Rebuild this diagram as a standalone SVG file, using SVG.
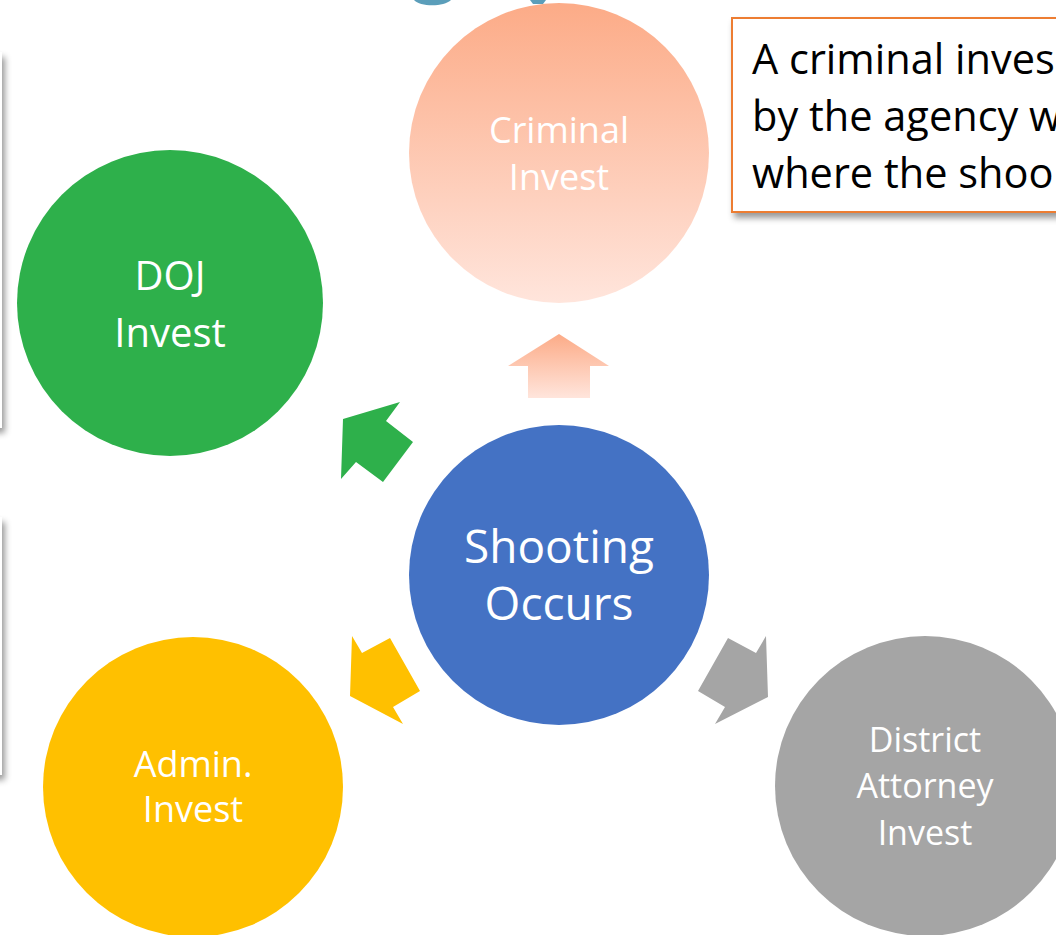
<svg xmlns="http://www.w3.org/2000/svg" width="1056" height="935" viewBox="0 0 1056 935">
<style>
.lbl{font-family:"Open Sans","Noto Sans","Liberation Sans",sans-serif;fill:#ffffff;text-anchor:middle}
.note{font-family:"Open Sans","Noto Sans","Liberation Sans",sans-serif;fill:#000000;font-size:41.5px}
</style>
<defs>
<linearGradient id="salmon" x1="0" y1="0" x2="0" y2="1">
<stop offset="0" stop-color="#FCAB87"/>
<stop offset="1" stop-color="#FFE5DC"/>
</linearGradient>
<filter id="sh" x="-20%" y="-20%" width="140%" height="150%">
<feDropShadow dx="3" dy="5" stdDeviation="3" flood-color="#000" flood-opacity="0.4"/>
</filter>
</defs>
<rect width="1056" height="935" fill="#ffffff"/>
<g id="title-fragment" fill="#5B9EBA">
<path d="M414,0 C420,7 444,7 451,0 Z"/>
<path d="M530,0 L546,0 L543,4 L533,4 Z"/>
</g>
<g id="left-boxes">
<rect x="-300" y="52" width="302" height="376" fill="#ffffff" filter="url(#sh)"/>
<rect x="-300" y="517" width="302" height="258" fill="#ffffff" filter="url(#sh)"/>
</g>
<g id="note">
<rect x="732" y="18" width="340" height="194" fill="#ffffff" stroke="#ED7D31" stroke-width="2" filter="url(#sh)"/>
<text class="note" x="752" y="74">A criminal inves</text>
<text class="note" x="752" y="131">by the agency w</text>
<text class="note" x="752" y="188">where the shoo</text>
</g>
<g id="connectors">
<polygon points="559,334 609,366 590,366 590,398 528,398 528,366 508,366" fill="url(#salmon)"/>
<polygon points="343,419 400,402 386,421 413,442 383,482 356,462 341,479" fill="#2EB04B"/>
<polygon points="352,636 362,653 390,638 420,691 393,707 403,724 350,696" fill="#FFC000"/>
<polygon points="768,697 715,724 725,707 698,691 728,638 756,653 766,636" fill="#A5A5A5"/>
</g>
<g id="criminal">
<circle cx="559" cy="153" r="150" fill="url(#salmon)"/>
<text class="lbl" x="559" y="143" font-size="36">Criminal</text>
<text class="lbl" x="559" y="190" font-size="36">Invest</text>
</g>
<g id="doj">
<circle cx="170" cy="303" r="153" fill="#2EB04B"/>
<text class="lbl" x="170" y="290" font-size="40">DOJ</text>
<text class="lbl" x="170" y="347" font-size="40">Invest</text>
</g>
<g id="shooting">
<circle cx="559" cy="575" r="150" fill="#4472C4"/>
<text class="lbl" x="559" y="563" font-size="46">Shooting</text>
<text class="lbl" x="559" y="620" font-size="46">Occurs</text>
</g>
<g id="admin">
<circle cx="193" cy="787" r="150" fill="#FFC000"/>
<text class="lbl" x="193" y="777" font-size="36">Admin.</text>
<text class="lbl" x="193" y="822" font-size="36">Invest</text>
</g>
<g id="district">
<circle cx="925" cy="786" r="150" fill="#A5A5A5"/>
<text class="lbl" x="925" y="752" font-size="34">District</text>
<text class="lbl" x="925" y="798" font-size="34">Attorney</text>
<text class="lbl" x="925" y="845" font-size="34">Invest</text>
</g>
</svg>
